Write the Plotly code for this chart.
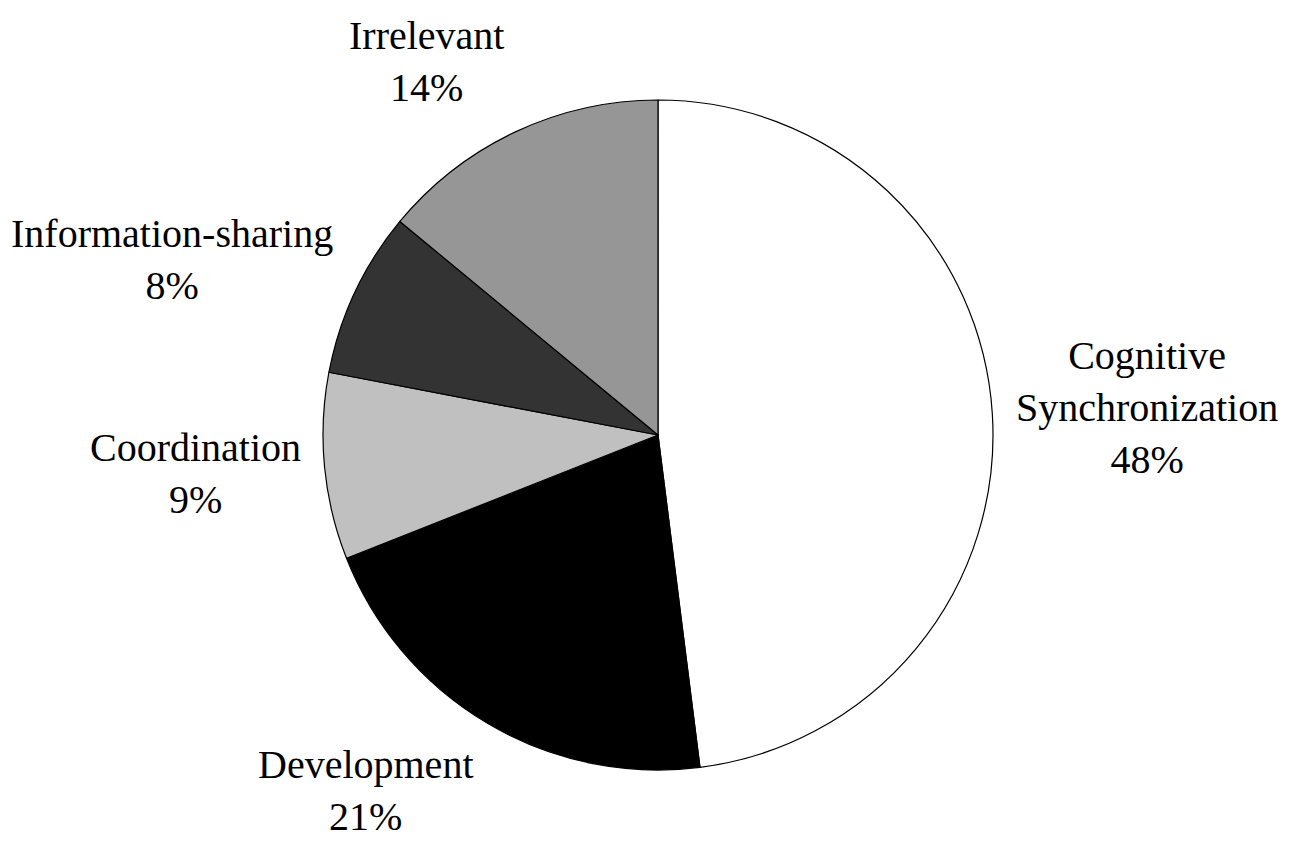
import math
import plotly.graph_objects as go

categories = ["Cognitive<br>Synchronization", "Development", "Coordination",
              "Information-sharing", "Irrelevant"]
shares = [48, 21, 9, 8, 14]
slice_colors = ["#ffffff", "#000000", "#c0c0c0", "#333333", "#969696"]

serif = "serif"
font_size = 40
W, H = 1295, 850
margin = dict(l=315, r=310, t=92, b=88)

fig = go.Figure()

fig.add_trace(go.Pie(
    labels=categories,
    values=shares,
    sort=False,
    direction="clockwise",
    rotation=0,
    marker=dict(colors=slice_colors, line=dict(color="#000000", width=1.2)),
    textinfo="none",
    hoverinfo="label+percent",
    showlegend=False,
))

# outside labels along each slice's mid angle
plot_w = W - margin["l"] - margin["r"]
plot_h = H - margin["t"] - margin["b"]
radius = min(plot_w, plot_h) / 2
gap_x, gap_y = 22, 26
total = sum(shares)
line_h = font_size * 1.3
start = 0
for name, v in zip(categories, shares):
    mid = (start + v / 2) / total * 2 * math.pi
    start += v
    s, c = math.sin(mid), math.cos(mid)
    text = "%s<br>%d%%" % (name, round(v / total * 100))
    n_lines = text.count("<br>") + 1
    fig.add_annotation(
        x=0.5 + (radius + gap_x) * s / plot_w,
        y=0.5 + (radius + gap_y) * c / plot_h,
        xref="paper", yref="paper",
        text=text,
        showarrow=False,
        xanchor="left" if s > 0 else "right",
        yanchor="middle",
        yshift=n_lines * line_h / 2 * c,
        align="center",
        font=dict(family=serif, size=font_size, color="#000000"),
    )

fig.update_layout(
    width=W, height=H,
    margin=margin,
    paper_bgcolor="white",
    plot_bgcolor="white",
    font=dict(family=serif, size=font_size, color="#000000"),
)

fig.write_html("out.html")
